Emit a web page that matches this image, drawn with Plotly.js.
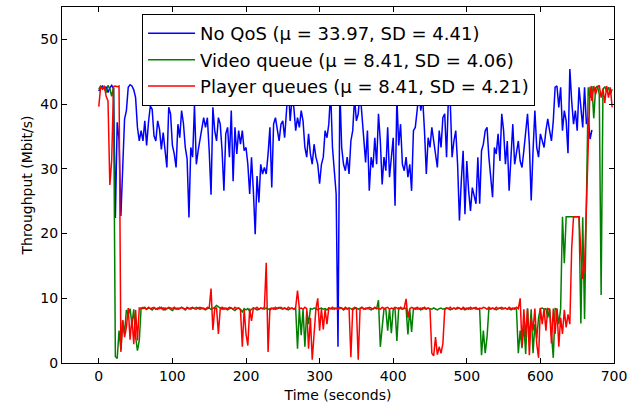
<!DOCTYPE html>
<html>
<head>
<meta charset="utf-8">
<script src="https://cdn.plot.ly/plotly-3.0.1.min.js"></script>
<style>html,body{margin:0;padding:0;background:#fff;}#chart{width:641px;height:411px;}</style>
</head>
<body>
<div id="chart"></div>
<script>
// Sample interval (seconds) of all three series
const DT = 2.5;

const seriesNames = [
  "No QoS (\u03bc = 33.97, SD = 4.41)",
  "Video queue (\u03bc = 8.41, SD = 4.06)",
  "Player queues (\u03bc = 8.41, SD = 4.21)"
];

// Throughput (Mbit/s), No QoS
const noQoS = [
  42.0, 42.6, 42.8, 42.3, 42.7, 41.8, 42.5, 42.9, 42.4, 22.4,
  37.2, 34.5, 22.7, 30.5, 37.7, 39.0, 42.6, 43.0, 42.8, 42.2,
  41.0, 36.4, 34.3, 35.9, 34.3, 37.4, 33.6, 37.2, 39.7, 39.2,
  35.1, 34.3, 37.4, 36.1, 33.0, 35.6, 32.8, 30.2, 39.5, 38.5,
  33.6, 32.3, 30.2, 36.9, 34.8, 39.0, 37.0, 33.3, 31.5, 22.5,
  33.3, 31.8, 39.8, 30.7, 32.8, 34.3, 35.9, 37.9, 36.4, 37.9,
  32.8, 26.0, 39.5, 35.9, 34.3, 37.9, 36.9, 32.8, 26.6, 35.4,
  36.4, 31.8, 39.0, 28.1, 36.4, 32.3, 35.9, 33.8, 35.9, 32.8,
  33.3, 30.7, 26.1, 31.8, 26.6, 19.9, 28.9, 24.8, 30.7, 29.2,
  30.2, 29.2, 32.3, 36.4, 27.1, 36.9, 37.9, 35.9, 34.3, 36.9,
  37.4, 34.8, 39.0, 43.0, 37.4, 40.8, 39.5, 35.9, 37.9, 36.4,
  39.0, 37.4, 33.3, 31.8, 35.4, 32.3, 30.7, 33.8, 31.8, 30.7,
  27.7, 30.7, 31.8, 35.9, 34.8, 36.9, 42.0, 33.3, 29.7, 26.1,
  2.5, 42.5, 33.3, 30.7, 29.7, 31.8, 29.2, 34.3, 35.9, 41.0,
  37.4, 38.5, 42.0, 38.0, 33.8, 31.0, 35.9, 26.6, 31.8, 30.2,
  34.8, 30.7, 38.5, 34.3, 27.6, 31.8, 29.7, 36.4, 28.7, 31.8,
  34.8, 24.3, 41.0, 33.6, 36.9, 30.7, 29.7, 31.8, 28.7, 30.7,
  26.6, 35.9, 36.4, 39.0, 42.0, 39.0, 41.0, 35.9, 29.2, 34.8,
  33.3, 36.4, 34.3, 31.8, 30.2, 35.9, 33.3, 37.9, 38.5, 31.8,
  41.0, 40.5, 31.8, 34.3, 35.9, 30.7, 22.0, 28.1, 32.8, 23.0,
  31.2, 26.6, 23.5, 27.1, 25.6, 24.6, 31.8, 24.6, 32.8, 33.8,
  35.9, 36.4, 31.8, 29.2, 25.6, 33.3, 32.3, 35.4, 31.2, 38.5,
  35.9, 30.7, 34.3, 26.6, 32.3, 36.9, 30.7, 32.8, 34.3, 31.2,
  30.2, 32.8, 35.9, 38.5, 33.8, 25.1, 32.8, 39.0, 33.3, 31.8,
  35.4, 34.3, 33.3, 35.9, 37.7, 35.9, 34.3, 37.4, 42.6, 42.8,
  39.5, 42.6, 35.9, 39.0, 37.4, 32.4, 45.4, 40.5, 36.9, 39.0,
  35.9, 42.6, 40.0, 36.4, 42.6, 36.9, 37.9, 34.6, 36.0
];

// Throughput (Mbit/s), Video queue
const videoQueue = [
  42.3, 42.8, 42.5, 42.7, 41.8, 42.9, 42.4, 41.2, 42.6, 1.0,
  0.7, 5.0, 2.0, 6.6, 4.5, 8.2, 7.5, 8.4, 6.0, 8.3,
  4.0, 1.9, 3.5, 8.5, 8.4, 8.6, 8.3, 8.5, 8.4, 8.2,
  8.5, 8.4, 8.3, 8.6, 8.4, 8.5, 8.2, 8.4, 8.5, 8.3,
  8.1, 8.4, 8.5, 8.3, 8.4, 8.6, 8.4, 8.2, 8.5, 8.4,
  8.3, 8.5, 8.4, 8.6, 8.4, 8.3, 8.5, 8.4, 8.2, 8.4,
  8.5, 8.3, 8.4, 8.6, 8.9, 8.7, 8.4, 8.3, 8.5, 8.4,
  8.2, 8.4, 8.5, 8.3, 8.1, 8.4, 8.5, 8.3, 7.9, 8.4,
  8.2, 8.4, 8.0, 8.3, 8.5, 8.4, 8.2, 8.3, 8.5, 8.4,
  8.3, 8.5, 8.4, 8.2, 8.4, 8.5, 8.3, 8.4, 8.6, 8.4,
  8.3, 8.5, 8.4, 8.2, 8.4, 8.5, 8.3, 8.4, 2.2, 8.4,
  4.3, 8.3, 2.5, 8.0, 6.0, 8.4, 8.3, 8.5, 8.4, 8.2,
  8.4, 8.5, 8.3, 8.4, 8.2, 8.5, 8.4, 8.3, 8.5, 8.4,
  8.3, 8.4, 8.5, 8.2, 8.4, 8.3, 8.5, 8.4, 8.2, 8.4,
  8.5, 8.3, 8.4, 8.6, 8.4, 8.3, 8.5, 8.4, 8.2, 8.4,
  8.5, 8.4, 9.7, 2.5, 6.0, 8.4, 8.3, 5.0, 8.4, 4.6,
  8.3, 8.4, 3.4, 8.5, 8.4, 8.3, 8.4, 8.5, 4.4, 8.3,
  4.8, 8.4, 8.5, 8.3, 8.4, 8.2, 8.5, 8.4, 8.3, 8.5,
  8.4, 8.3, 8.5, 8.4, 8.2, 8.4, 8.5, 8.3, 8.4, 8.5,
  8.4, 8.2, 8.4, 8.5, 8.3, 8.4, 8.5, 8.3, 8.4, 8.2,
  8.4, 8.5, 8.3, 8.4, 8.5, 8.3, 8.4, 8.2, 1.2, 5.0,
  1.5, 4.0, 8.4, 8.3, 8.5, 8.4, 8.2, 8.4, 8.5, 8.3,
  8.4, 8.5, 8.3, 8.4, 8.2, 8.4, 8.5, 8.3, 1.5, 5.0,
  2.3, 6.0, 1.4, 8.4, 3.5, 8.3, 1.5, 6.0, 3.8, 7.0,
  8.4, 8.5, 8.3, 8.4, 7.0, 8.4, 5.0, 0.8, 8.4, 8.3,
  6.0, 8.4, 22.6, 15.4, 22.6, 22.6, 22.5, 22.6, 22.6, 22.5,
  22.6, 22.6, 6.1, 22.5, 6.8, 25.0, 42.6, 41.0, 42.8, 37.8,
  42.5, 42.8, 41.5, 10.5, 42.3, 42.7, 42.0, 42.6, 41.5, 42.3
];

// Throughput (Mbit/s), Player queues
const playerQueues = [
  39.6, 42.7, 42.3, 42.8, 41.2, 40.5, 27.5, 31.3, 42.7, 42.8,
  42.7, 42.8, 1.7, 6.6, 4.0, 5.5, 8.5, 3.6, 7.0, 2.9,
  8.2, 3.5, 8.5, 8.4, 8.6, 8.5, 8.3, 8.6, 8.4, 8.5,
  8.6, 8.3, 8.5, 8.4, 8.6, 8.2, 8.5, 8.4, 8.6, 8.5,
  8.4, 8.6, 8.3, 8.5, 8.4, 8.6, 8.5, 8.3, 8.6, 8.4,
  8.5, 8.6, 8.4, 8.3, 8.5, 8.6, 8.4, 8.5, 8.3, 8.6,
  8.5, 11.5, 5.1, 8.4, 8.5, 4.5, 8.4, 8.6, 8.3, 8.5,
  8.4, 8.6, 8.5, 8.3, 8.6, 8.4, 8.5, 8.2, 2.5, 8.3,
  4.5, 2.7, 8.4, 6.5, 8.5, 8.4, 8.6, 8.3, 8.5, 8.4,
  8.6, 15.5, 1.7, 8.4, 8.5, 8.3, 8.6, 8.4, 8.5, 8.6,
  8.4, 8.5, 8.3, 8.6, 8.4, 8.5, 8.3, 8.6, 11.2, 8.4,
  8.5, 8.3, 8.6, 8.4, 2.2, 7.0, 0.5, 4.0, 8.4, 10.0,
  5.0, 8.4, 5.2, 8.3, 6.0, 8.5, 8.4, 8.6, 8.3, 8.5,
  8.4, 8.6, 8.5, 8.3, 8.6, 8.4, 8.5, 0.9, 8.4, 8.6,
  8.5, 0.5, 8.4, 8.6, 8.3, 8.5, 8.4, 8.6, 8.5, 8.3,
  8.6, 8.4, 8.5, 8.3, 8.6, 8.4, 8.5, 8.6, 8.3, 8.5,
  8.4, 8.6, 8.5, 8.3, 8.6, 8.4, 8.5, 9.9, 7.0, 8.4,
  8.6, 8.5, 8.3, 8.6, 8.4, 8.5, 8.3, 8.6, 8.4, 8.5,
  8.3, 1.5, 1.1, 4.0, 1.3, 2.5, 1.5, 3.0, 8.2, 8.5,
  8.4, 8.6, 8.3, 8.5, 8.4, 8.6, 8.5, 8.3, 8.6, 8.4,
  8.5, 8.3, 8.6, 8.4, 8.5, 8.6, 8.3, 8.5, 8.4, 8.6,
  8.5, 8.3, 8.6, 8.4, 8.5, 8.3, 8.6, 8.4, 8.5, 8.6,
  8.4, 8.5, 8.3, 8.6, 8.4, 8.5, 8.3, 8.6, 8.4, 10.0,
  2.6, 8.3, 4.0, 8.4, 1.2, 7.0, 5.0, 8.4, 3.0, 0.8,
  8.5, 6.0, 8.4, 5.0, 8.4, 8.3, 3.0, 8.4, 4.5, 8.4,
  2.5, 7.0, 4.5, 8.2, 5.5, 7.5, 6.0, 17.7, 22.6, 22.6,
  22.5, 22.6, 17.0, 13.0, 15.0, 23.3, 31.3, 42.7, 40.5, 42.8,
  41.5, 42.6, 42.9, 41.0, 42.4, 40.2, 42.8, 41.0, 42.6, 39.5
];

const xTicks = [0, 100, 200, 300, 400, 500, 600, 700];
const yTicks = [0, 10, 20, 30, 40, 50];

const FONT = "DejaVu Sans, sans-serif";

const traces = [
  {y: noQoS, x0: 0, dx: DT, name: seriesNames[0], mode: "lines", line: {color: "#0000ff", width: 1.5}},
  {y: videoQueue, x0: 0, dx: DT, name: seriesNames[1], mode: "lines", line: {color: "#008000", width: 1.5}},
  {y: playerQueues, x0: 0, dx: DT, name: seriesNames[2], mode: "lines", line: {color: "#ff0000", width: 1.5}}
];

const axisCommon = {
  showgrid: false, zeroline: false, showline: true, linecolor: "#000", linewidth: 1,
  mirror: "ticks", ticks: "inside", ticklen: 5, tickwidth: 1, tickcolor: "#000",
  tickfont: {family: FONT, size: 14, color: "#000"}
};

const layout = {
  width: 641, height: 411,
  margin: {l: 62, r: 27, t: 7, b: 48},
  paper_bgcolor: "#fff", plot_bgcolor: "#fff",
  font: {family: FONT, size: 14, color: "#000"},
  showlegend: true,
  legend: {
    x: 0.501, xanchor: "center", y: 0.98, yanchor: "top",
    bgcolor: "#fff", bordercolor: "#000", borderwidth: 1,
    itemwidth: 47,
    font: {family: FONT, size: 18, color: "#000"}
  },
  xaxis: Object.assign({}, axisCommon, {
    range: [-50, 700], tickvals: xTicks, ticktext: xTicks.map(String),
    title: {text: "Time (seconds)", font: {family: FONT, size: 14}, standoff: 7}
  }),
  yaxis: Object.assign({}, axisCommon, {
    range: [0, 55], tickvals: yTicks, ticktext: yTicks.map(String),
    title: {text: "Throughput (Mbit/s)", font: {family: FONT, size: 14}, standoff: 4}
  })
};

Plotly.newPlot("chart", traces, layout, {displayModeBar: false, staticPlot: true});
</script>
</body>
</html>
